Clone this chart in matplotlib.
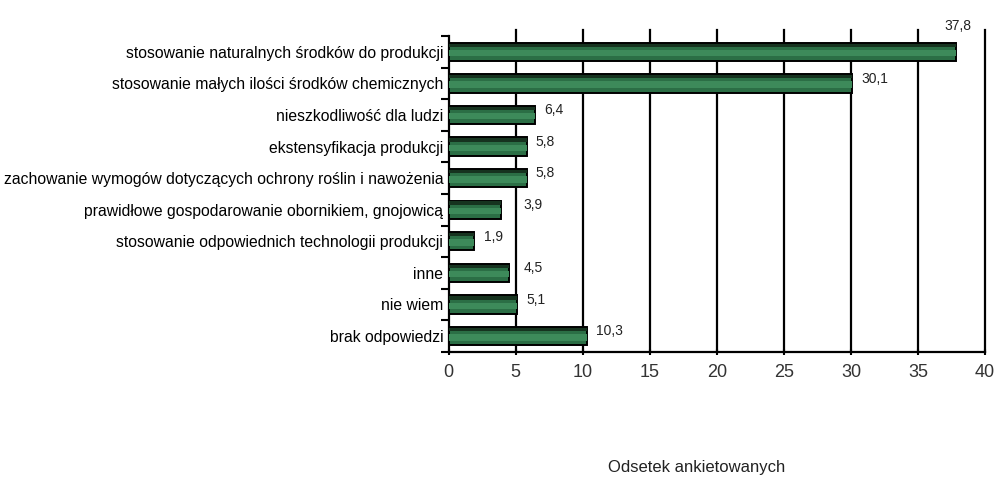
import matplotlib
matplotlib.use("Agg")
import matplotlib.pyplot as plt
import numpy as np

categories = [
    "stosowanie naturalnych środków do produkcji",
    "stosowanie małych ilości środków chemicznych",
    "nieszkodliwość dla ludzi",
    "ekstensyfikacja produkcji",
    "zachowanie wymogów dotyczących ochrony roślin i nawożenia",
    "prawidłowe gospodarowanie obornikiem, gnojowicą",
    "stosowanie odpowiednich technologii produkcji",
    "inne",
    "nie wiem",
    "brak odpowiedzi",
]
values = [37.8, 30.1, 6.4, 5.8, 5.8, 3.9, 1.9, 4.5, 5.1, 10.3]
xticks = [0, 5, 10, 15, 20, 25, 30, 35, 40]
xlabel = "Odsetek ankietowanych"

plt.rcParams['font.family'] = ['Liberation Sans', 'DejaVu Sans']

fig = plt.figure(figsize=(9.95, 4.86), dpi=100)
ax = fig.add_axes([0.451, 0.276, 0.539, 0.650])

y = np.arange(len(categories))
ax.set_xlim(0, 40)
ax.set_ylim(len(categories) - 0.5, -0.5)

for xt in xticks[1:]:
    ax.axvline(xt, ymin=0, ymax=1.02, color='black', lw=1.6, zorder=1, clip_on=False)

bh = 0.58
ax.barh(y, values, height=bh, color='#2b6e45', edgecolor='black', lw=1.4, zorder=3)
# highlight stripe for 3D look
ax.barh(y + 0.04, values, height=bh * 0.35, color='#3d8a5a', lw=0, zorder=4)
# dark top band
ax.barh(y - bh * 0.36, values, height=bh * 0.18, color='#16331f', lw=0, zorder=4)

for i, v in enumerate(values):
    lbl = f"{v:.1f}".replace('.', ',')
    if i == 0:
        ax.text(v + 0.2, i - 0.8, lbl, ha='center', va='center', fontsize=10, color='#222222')
    else:
        xl = v + 0.7
        g = np.ceil(v / 5) * 5
        if v < g < xl + 1.8:
            xl = g + 0.6
        ax.text(xl, i - 0.15, lbl, ha='left', va='center', fontsize=10, color='#222222')

ax.set_yticks(y)
ax.set_yticklabels(categories, fontsize=11.3)
ax.set_yticks(np.arange(len(categories) + 1) - 0.5, minor=True)
ax.tick_params(axis='y', which='major', length=0, pad=4)
ax.tick_params(axis='y', which='minor', length=6, width=1.5, color='black')

ax.set_xticks(xticks)
ax.set_xticklabels([str(t) for t in xticks], fontsize=13, color='#333333')
ax.tick_params(axis='x', length=5, width=1.5, direction='inout', pad=6)

for s in ['top', 'right']:
    ax.spines[s].set_visible(False)
ax.spines['left'].set_linewidth(1.6)
ax.spines['bottom'].set_linewidth(1.6)

fig.text(0.700, 0.022, xlabel, ha='center', va='bottom', fontsize=12, color='#222222')

fig.savefig("out.png", dpi=100, facecolor='white')
